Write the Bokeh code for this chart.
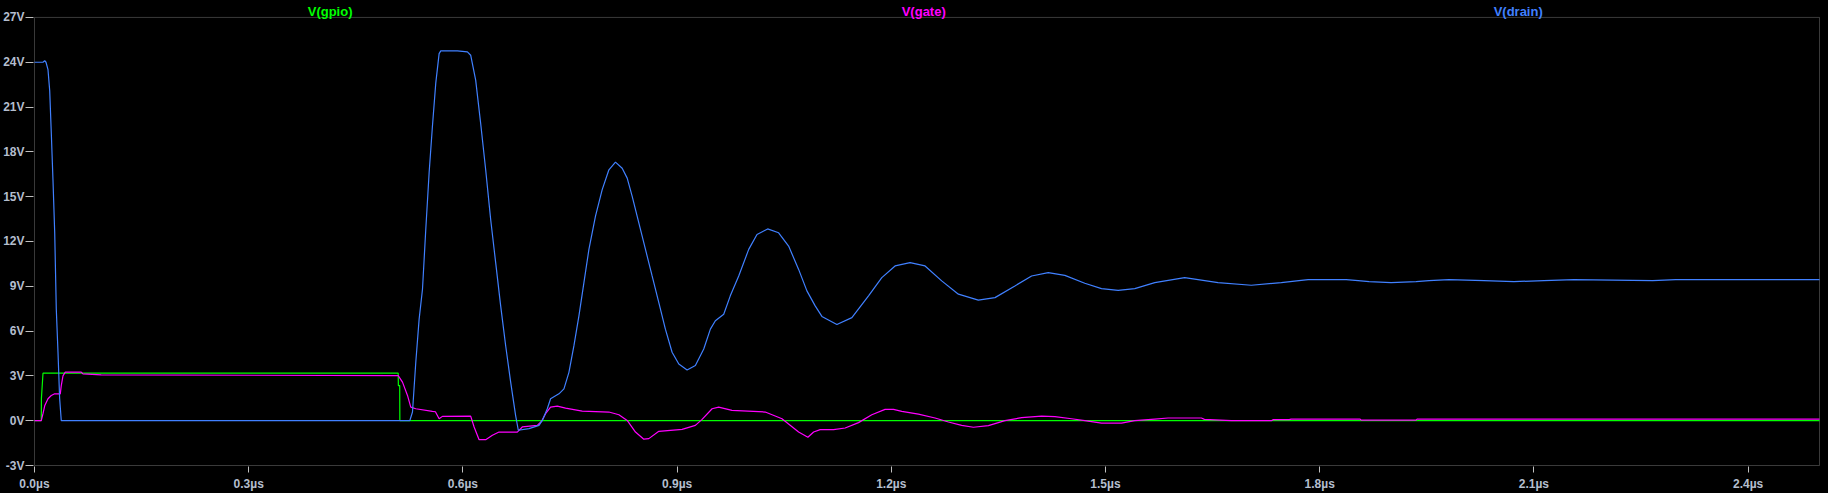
from bokeh.plotting import figure
from bokeh.models import Range1d, FixedTicker, BoxAnnotation, GlobalInlineStyleSheet
from bokeh.core.properties import value
from bokeh.embed import file_html
from bokeh.resources import INLINE

# ---- data (time in µs, voltage in V) ----
drain_t = [0.0, 0.0119, 0.0143, 0.0161, 0.0189, 0.0213, 0.0235, 0.0259, 0.0283, 0.0305,
           0.0329, 0.0352, 0.0375, 0.5256, 0.5294, 0.534, 0.5387, 0.5434, 0.548, 0.5527,
           0.5573, 0.562, 0.5667, 0.569, 0.5923, 0.6063, 0.6109, 0.6179, 0.6249, 0.6319,
           0.6389, 0.6459, 0.6529, 0.6599, 0.6669, 0.6738, 0.6776, 0.6926, 0.7066, 0.7112,
           0.7182, 0.7228, 0.7345, 0.7415, 0.7485, 0.7555, 0.7625, 0.7695, 0.7765, 0.7857,
           0.7951, 0.8045, 0.8137, 0.8231, 0.8301, 0.8371, 0.8464, 0.8557, 0.865, 0.8744,
           0.8836, 0.893, 0.9024, 0.914, 0.9256, 0.9373, 0.9466, 0.9536, 0.9653, 0.9745,
           0.9863, 1.0003, 1.0119, 1.0268, 1.0422, 1.0562, 1.0702, 1.0818, 1.0934, 1.1028,
           1.1238, 1.1448, 1.1681, 1.1867, 1.2053, 1.2263, 1.2473, 1.2706, 1.294, 1.3219,
           1.3452, 1.3731, 1.3965, 1.4198, 1.4431, 1.471, 1.4944, 1.5177, 1.541, 1.569,
           1.6109, 1.6576, 1.7042, 1.7462, 1.7741, 1.7839, 1.8371, 1.8538, 1.8692, 1.9,
           1.935, 1.9531, 1.9811, 2.0301, 2.072, 2.114, 2.1559, 2.2664, 2.2986, 2.5]
drain_v = [24.0, 24.0, 24.1, 24.0, 23.5, 22.1, 19.3, 16.1, 12.6, 7.5,
           4.6, 1.5, 0.0, 0.0, 0.58, 3.9, 6.8, 8.8, 12.8, 16.6,
           19.7, 22.6, 24.58, 24.76, 24.76, 24.69, 24.47, 22.8, 19.9, 16.8,
           13.47, 10.58, 7.69, 5.02, 2.58, 0.36, -0.64, -0.53, -0.31, 0.02,
           0.8, 1.47, 1.8, 2.13, 3.24, 5.02, 7.02, 9.24, 11.47, 13.69,
           15.47, 16.8, 17.31, 16.9, 16.24, 15.02, 13.24, 11.47, 9.69, 7.91,
           6.13, 4.58, 3.8, 3.4, 3.69, 4.8, 6.13, 6.69, 7.13, 8.36,
           9.69, 11.47, 12.47, 12.84, 12.58, 11.69, 10.13, 8.69, 7.69, 6.98,
           6.44, 6.9, 8.36, 9.58, 10.36, 10.58, 10.36, 9.36, 8.47, 8.07,
           8.24, 9.02, 9.69, 9.91, 9.73, 9.2, 8.84, 8.73, 8.84, 9.24,
           9.58, 9.24, 9.07, 9.24, 9.4, 9.45, 9.45, 9.38, 9.31, 9.24,
           9.31, 9.38, 9.45, 9.38, 9.31, 9.38, 9.45, 9.38, 9.45, 9.45]

gate_t = [0.0, 0.0095, 0.0119, 0.0143, 0.0189, 0.0235, 0.0283, 0.0361, 0.0375, 0.0399,
          0.0431, 0.0655, 0.0678, 0.0934, 0.5094, 0.5154, 0.5224, 0.527, 0.534, 0.5573,
          0.5615, 0.5667, 0.5713, 0.6109, 0.6157, 0.6227, 0.6319, 0.6413, 0.6506, 0.6762,
          0.6832, 0.7042, 0.7102, 0.7158, 0.7228, 0.7322, 0.7438, 0.7671, 0.8045, 0.8185,
          0.8301, 0.8417, 0.8534, 0.8604, 0.8744, 0.907, 0.9256, 0.935, 0.949, 0.9583,
          0.9769, 1.0235, 1.0469, 1.0702, 1.0832, 1.0912, 1.1004, 1.1192, 1.1354, 1.1541,
          1.1727, 1.1913, 1.2031, 1.2147, 1.238, 1.2613, 1.28, 1.2986, 1.315, 1.336,
          1.3592, 1.3825, 1.4105, 1.4291, 1.4524, 1.471, 1.4944, 1.5224, 1.541, 1.569,
          1.5877, 1.6343, 1.6385, 1.6762, 1.7322, 1.735, 1.7573, 1.76, 1.8566, 1.858,
          1.935, 1.9364, 2.5]
gate_v = [0.0, 0.0, 0.47, 1.0, 1.47, 1.69, 1.8, 1.8, 2.35, 3.0,
          3.25, 3.25, 3.13, 3.07, 3.02, 2.58, 1.69, 0.91, 0.8, 0.62,
          0.6, 0.13, 0.29, 0.31, -0.42, -1.27, -1.27, -0.98, -0.76, -0.76,
          -0.42, -0.31, -0.04, 0.47, 0.91, 0.98, 0.84, 0.64, 0.58, 0.4,
          0.02, -0.76, -1.24, -1.2, -0.71, -0.58, -0.31, 0.09, 0.8, 0.91,
          0.69, 0.58, 0.13, -0.76, -1.11, -0.76, -0.6, -0.6, -0.49, -0.13,
          0.4, 0.76, 0.76, 0.62, 0.44, 0.18, -0.09, -0.31, -0.44, -0.33,
          0.0, 0.2, 0.31, 0.27, 0.13, 0.0, -0.16, -0.16, 0.0, 0.11,
          0.18, 0.18, 0.09, 0.0, 0.0, 0.07, 0.07, 0.11, 0.11, 0.04,
          0.04, 0.11, 0.11]

gpio_t = [0.0, 0.0095, 0.0097, 0.0119, 0.5094, 0.5096, 0.5115, 0.5117, 2.5]
gpio_v = [0.0, 0.0, 1.5, 3.18, 3.18, 2.35, 2.35, 0.0, 0.0]

series_names = ["V(gpio)", "V(gate)", "V(drain)"]
series_colors = ["#00ff00", "#ff00ff", "#4080ff"]

x_ticks = [0.0, 0.3, 0.6, 0.9, 1.2, 1.5, 1.8, 2.1, 2.4]
x_labels = ["0.0µs", "0.3µs", "0.6µs", "0.9µs", "1.2µs", "1.5µs", "1.8µs", "2.1µs", "2.4µs"]
y_ticks = [-3, 0, 3, 6, 9, 12, 15, 18, 21, 24, 27]
y_labels = ["-3V", "0V", "3V", "6V", "9V", "12V", "15V", "18V", "21V", "24V", "27V"]

X_MIN, X_MAX = 0.0, 2.5
Y_MIN, Y_MAX = -3.0, 27.0

FONT = "Liberation Sans"
AXIS_COL = "#c0c0c0"
LABEL_COL = "#b4bece"

PX_X = 715.0   # pixels per µs
PX_Y = 15.0    # pixels per V

p = figure(width=1828, height=493, output_backend="svg", toolbar_location=None,
           x_range=Range1d(X_MIN - 1 / PX_X, X_MAX + 1 / PX_X),
           y_range=Range1d(Y_MIN - 1 / PX_Y, Y_MAX + 17 / PX_Y),
           background_fill_color="black", border_fill_color="black",
           min_border_top=0, min_border_right=8, min_border_left=31, min_border_bottom=25)
p.stylesheets.append(GlobalInlineStyleSheet(css="body { background: #000000; }"))

p.grid.visible = False
p.outline_line_color = None

for ax in (p.xaxis[0], p.yaxis[0]):
    ax.axis_line_color = None
    ax.major_tick_line_color = AXIS_COL
    ax.minor_tick_line_color = None
    ax.major_tick_in = 0
    ax.major_label_text_color = LABEL_COL
    ax.major_label_text_font = FONT
    ax.major_label_text_font_size = "12px"
    ax.major_label_text_font_style = "bold"

p.xaxis.ticker = FixedTicker(ticks=x_ticks)
p.xaxis.major_label_overrides = {t: l for t, l in zip(x_ticks, x_labels)}
p.xaxis.major_tick_out = 6
p.xaxis.major_label_standoff = 4

p.yaxis.ticker = FixedTicker(ticks=y_ticks)
p.yaxis.major_label_overrides = {t: l for t, l in zip(y_ticks, y_labels)}
p.yaxis.major_tick_out = 8
p.yaxis.major_label_standoff = 1

# plot box (LTspice-style frame around the data area)
p.add_layout(BoxAnnotation(left=X_MIN, right=X_MAX, bottom=Y_MIN, top=Y_MAX,
                           fill_alpha=0, line_color=AXIS_COL, line_width=1,
                           level="underlay"))

p.line(gpio_t, gpio_v, line_color=series_colors[0], line_width=1.2)
p.line(gate_t, gate_v, line_color=series_colors[1], line_width=1.2)
p.line(drain_t, drain_v, line_color=series_colors[2], line_width=1.2)

# trace names above the box
title_x = [0.414, 1.2454, 2.078]
title_y = [Y_MAX + 5.5 / PX_Y] * 3
p.text(x=title_x, y=title_y, text=series_names, text_color=series_colors,
       text_align="center", text_baseline="alphabetic",
       text_font=value(FONT), text_font_size="13px", text_font_style="bold")

open("out.html", "w").write(file_html(p, INLINE))
